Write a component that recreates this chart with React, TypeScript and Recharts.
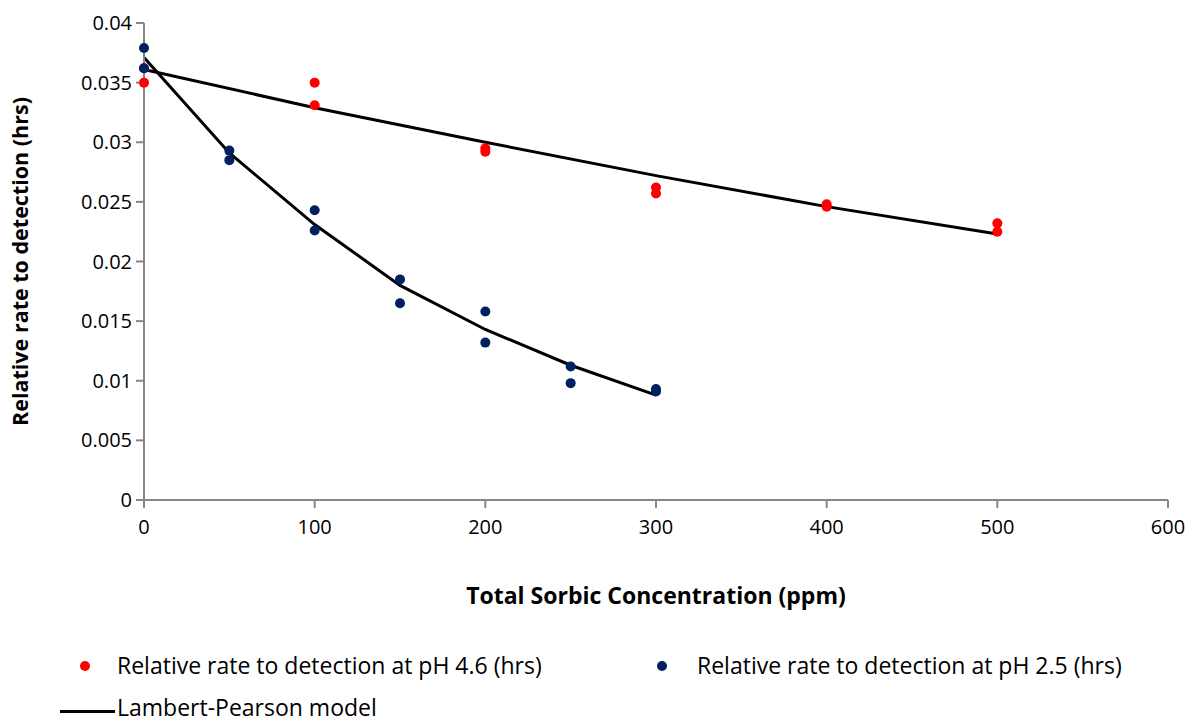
import React from 'react';
import { ComposedChart, Scatter, Line, XAxis, YAxis } from 'recharts';

const ph46X = [0, 0, 100, 100, 200, 200, 300, 300, 400, 400, 500, 500];
const ph46Y = [0.0350, 0.0362, 0.0350, 0.0331, 0.0295, 0.0292, 0.0262, 0.0257, 0.0248, 0.0246, 0.0232, 0.0225];

const ph25X = [0, 0, 50, 50, 100, 100, 150, 150, 200, 200, 250, 250, 300, 300];
const ph25Y = [0.0379, 0.0362, 0.0293, 0.0285, 0.0243, 0.0226, 0.0185, 0.0165, 0.0158, 0.0132, 0.0112, 0.0098, 0.0093, 0.0091];

const model46X = [0, 100, 200, 300, 400, 500];
const model46Y = [0.0361, 0.0329, 0.0300, 0.0272, 0.0246, 0.0223];

const model25X = [0, 50, 100, 150, 200, 250, 300];
const model25Y = [0.0371, 0.0291, 0.0231, 0.0180, 0.0143, 0.0113, 0.0088];

const xTicks = [0, 100, 200, 300, 400, 500, 600];
const yTicks = [0, 0.005, 0.01, 0.015, 0.02, 0.025, 0.03, 0.035, 0.04];

const zip = (xs: number[], ys: number[]) => xs.map((x, i) => ({ x, y: ys[i] }));
const ph46 = zip(ph46X, ph46Y);
const ph25 = zip(ph25X, ph25Y);
const model46 = zip(model46X, model46Y);
const model25 = zip(model25X, model25Y);

const RED = '#FF0000';
const NAVY = '#002060';
const AXIS = '#868686';
const FONT = '"Open Sans", sans-serif';

const Dot = (props: any) => {
  const { cx, cy, fill } = props;
  return <circle cx={cx} cy={cy} r={5} fill={fill} />;
};

export default function App() {
  return (
    <div style={{ position: 'fixed', left: 0, top: 0, width: 1192, height: 722, background: '#fff', fontFamily: FONT, overflow: 'hidden' }}>
      <ComposedChart width={1192} height={722} margin={{ top: 23, right: 24, left: 0, bottom: 112 }}>
        <XAxis
          type="number"
          dataKey="x"
          domain={[0, 600]}
          ticks={xTicks}
          allowDuplicatedCategory={false}
          axisLine={{ stroke: AXIS, strokeWidth: 2 }}
          tickLine={{ stroke: AXIS, strokeWidth: 2 }}
          tickSize={8}
          tick={{ fill: '#000', fontSize: 20, fontFamily: FONT }}
          tickMargin={12}
          height={110}
          label={{ value: 'Total Sorbic Concentration (ppm)', position: 'insideBottom', offset: 6, style: { fontFamily: FONT, fontWeight: 700, fontSize: 23, fill: '#000' } }}
        />
        <YAxis
          type="number"
          dataKey="y"
          domain={[0, 0.04]}
          ticks={yTicks}
          width={144}
          axisLine={{ stroke: AXIS, strokeWidth: 2 }}
          tickLine={{ stroke: AXIS, strokeWidth: 2 }}
          tickSize={8}
          tick={{ fill: '#000', fontSize: 20, fontFamily: FONT }}
          tickMargin={4}
          tickFormatter={(v: number) => String(v)}
          label={{ value: 'Relative rate to detection (hrs)', angle: -90, position: 'insideLeft', offset: 20, style: { textAnchor: 'middle', fontFamily: FONT, fontWeight: 700, fontSize: 21.5, fill: '#000' } }}
        />
        <Line data={model46} dataKey="y" type="linear" stroke="#000" strokeWidth={3} dot={false} isAnimationActive={false} />
        <Line data={model25} dataKey="y" type="linear" stroke="#000" strokeWidth={3} dot={false} isAnimationActive={false} />
        <Scatter data={ph46} dataKey="y" fill={RED} shape={<Dot />} isAnimationActive={false} />
        <Scatter data={ph25} dataKey="y" fill={NAVY} shape={<Dot />} isAnimationActive={false} />
      </ComposedChart>
      <div style={{ position: 'absolute', left: 0, top: 650, width: 1192, height: 72, fontSize: 23, color: '#000', fontFamily: FONT }}>
        <div style={{ position: 'absolute', left: 80, top: 11, width: 10, height: 10, borderRadius: 5, background: RED }} />
        <div style={{ position: 'absolute', left: 117, top: 0, whiteSpace: 'nowrap', lineHeight: '30px' }}>Relative rate to detection at pH 4.6 (hrs)</div>
        <div style={{ position: 'absolute', left: 657, top: 11, width: 10, height: 10, borderRadius: 5, background: NAVY }} />
        <div style={{ position: 'absolute', left: 697, top: 0, whiteSpace: 'nowrap', lineHeight: '30px' }}>Relative rate to detection at pH 2.5 (hrs)</div>
        <div style={{ position: 'absolute', left: 60, top: 60, width: 55, height: 3, background: '#000' }} />
        <div style={{ position: 'absolute', left: 117, top: 44, whiteSpace: 'nowrap', lineHeight: '27px' }}>Lambert-Pearson model</div>
      </div>
    </div>
  );
}
